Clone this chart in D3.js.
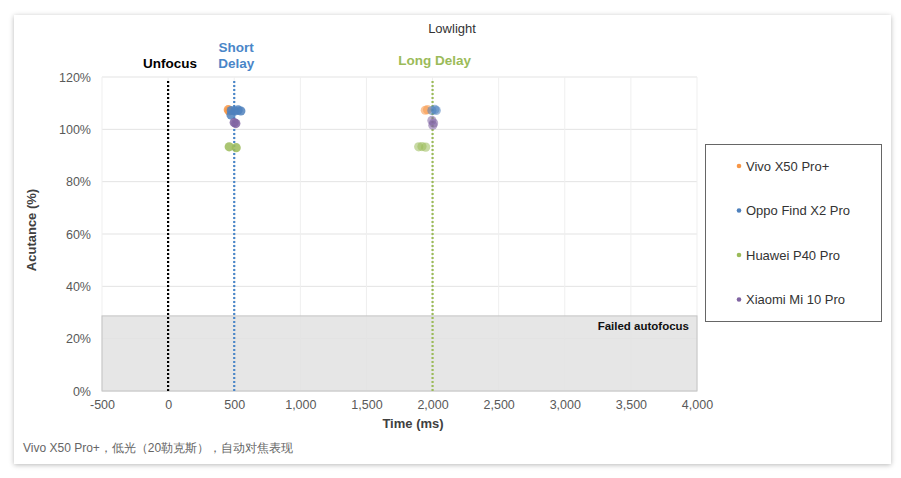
<!DOCTYPE html>
<html lang="zh">
<head>
<meta charset="UTF-8">
<title>Lowlight</title>
<script src="https://cdn.jsdelivr.net/npm/d3@7"></script>
<style>
    body { margin: 0; background: #fff; }
    #card {
        position: absolute; left: 14px; top: 15px; width: 877px; height: 449px;
        background: #fff; box-shadow: 0 1px 5px rgba(0,0,0,0.28);
    }
    svg { position: absolute; left: 0; top: 0; }
    text { font-family: "Liberation Sans", Arial, sans-serif; }
    .tick text { fill: #595959; font-size: 12.5px; }
    .tick line, .domain { display: none; }
</style>
</head>
<body>
<div id="card"></div>
<script>
// data
var phones = ["Vivo X50 Pro+", "Oppo Find X2 Pro", "Huawei P40 Pro", "Xiaomi Mi 10 Pro"];
var colors = ["#f79646", "#4f81bd", "#9bbb59", "#8064a2"];
var xTicks = [-500, 0, 500, 1000, 1500, 2000, 2500, 3000, 3500, 4000];
var yTicks = [0, 20, 40, 60, 80, 100, 120];
var markers = [
    {name: "Unfocus", t: 0, color: "#000"},
    {name: "Short Delay", t: 500, color: "#4a86c8"},
    {name: "Long Delay", t: 2000, color: "#9bbb59"}
];
var failedLimit = 28.7;  // % acutance

// shots per phone: [time ms, acutance %]
var shortDelay = [
    [[455, 107.5], [462, 107.0]],
    [[478, 107.2], [505, 107.0], [530, 107.4], [550, 107.0], [476, 105.5]],
    [[462, 93.3], [515, 93.0]],
    [[500, 102.6], [512, 102.2]]
];
var longDelay = [
    [[1945, 107.3], [1962, 107.5]],
    [[1995, 107.2], [2018, 107.6], [2028, 107.2]],
    [[1895, 93.3], [1920, 93.4], [1948, 93.2]],
    [[1995, 103.4], [2002, 101.6], [2008, 102.4]]
];

var width = 901, height = 478;
var svg = d3.select("body").append("svg")
    .attr("width", width).attr("height", height);

var x = d3.scaleLinear().domain([-500, 4000]).range([102, 697]);
var y = d3.scaleLinear().domain([0, 120]).range([391, 77]);

// grid
svg.append("g").selectAll("line").data(yTicks).enter().append("line")
    .attr("x1", x(-500)).attr("x2", x(4000))
    .attr("y1", d => y(d)).attr("y2", d => y(d))
    .attr("stroke", "#e3e3e3");
svg.append("g").selectAll("line").data(xTicks).enter().append("line")
    .attr("x1", d => x(d)).attr("x2", d => x(d))
    .attr("y1", y(0)).attr("y2", y(120))
    .attr("stroke", "#efefef");

// failed autofocus zone
svg.append("rect")
    .attr("x", x(-500)).attr("y", y(failedLimit))
    .attr("width", x(4000) - x(-500)).attr("height", y(0) - y(failedLimit))
    .attr("fill", "#e2e2e2").attr("fill-opacity", 0.85)
    .attr("stroke", "#c4c4c4");
svg.append("text")
    .attr("x", x(4000) - 8).attr("y", y(failedLimit) + 14)
    .attr("text-anchor", "end").attr("font-size", "11.5px").attr("font-weight", "bold")
    .attr("fill", "#111").text("Failed autofocus");

// axes
var fmt = d3.format(",");
svg.append("g").attr("transform", "translate(0," + (y(0) + 2) + ")")
    .call(d3.axisBottom(x).tickValues(xTicks).tickSize(0).tickPadding(7)
        .tickFormat(d => fmt(d).replace("\u2212", "-")));
svg.append("g").attr("transform", "translate(" + (x(-500) - 11) + ",0)")
    .call(d3.axisLeft(y).tickValues(yTicks).tickSize(0).tickPadding(0).tickFormat(d => d + "%"));

svg.append("text").attr("x", 413).attr("y", 428).attr("text-anchor", "middle")
    .attr("font-size", "13px").attr("font-weight", "bold").attr("fill", "#404040").text("Time (ms)");
svg.append("text").attr("transform", "translate(36,230) rotate(-90)").attr("text-anchor", "middle")
    .attr("font-size", "13px").attr("font-weight", "bold").attr("fill", "#404040").text("Acutance (%)");

// title
svg.append("text").attr("x", 452).attr("y", 33).attr("text-anchor", "middle")
    .attr("font-size", "13px").attr("fill", "#333").text("Lowlight");

// delay markers
svg.append("g").selectAll("line").data(markers).enter().append("line")
    .attr("x1", d => x(d.t)).attr("x2", d => x(d.t))
    .attr("y1", y(118.5)).attr("y2", y(0))
    .attr("stroke", d => d.color).attr("stroke-width", 2.2)
    .attr("stroke-dasharray", "2,2");
markers.forEach(function (m) {
    var words = m.name === "Short Delay" ? ["Short", "Delay"] : [m.name];
    var t = svg.append("text").attr("x", x(m.t) + 2).attr("text-anchor", "middle")
        .attr("font-size", "13.5px").attr("font-weight", "bold").attr("fill", m.color);
    words.forEach(function (w, i) {
        t.append("tspan").attr("x", x(m.t) + 2)
            .attr("y", m.t === 2000 ? 65 : 68 - (words.length - 1 - i) * 16).text(w);
    });
});

// points
phones.forEach(function (p, i) {
    svg.append("g").selectAll("circle").data(shortDelay[i]).enter().append("circle")
        .attr("cx", d => x(d[0])).attr("cy", d => y(d[1])).attr("r", 4.6)
        .attr("fill", colors[i]).attr("fill-opacity", 0.85);
    svg.append("g").selectAll("circle").data(longDelay[i]).enter().append("circle")
        .attr("cx", d => x(d[0])).attr("cy", d => y(d[1])).attr("r", 4.6)
        .attr("fill", colors[i]).attr("fill-opacity", 0.55);
});

// legend
svg.append("rect").attr("x", 705.5).attr("y", 144.5).attr("width", 176).attr("height", 177)
    .attr("fill", "#fff").attr("stroke", "#666");
var lg = svg.append("g").selectAll("g").data(phones).enter().append("g")
    .attr("transform", (d, i) => "translate(739," + (166 + i * 44.5) + ")");
lg.append("circle").attr("r", 2.3).attr("fill", (d, i) => colors[i]);
lg.append("text").attr("x", 7).attr("y", 4.5).attr("font-size", "13px").attr("fill", "#333").text(d => d);

// caption
svg.append("text").attr("x", 23).attr("y", 452)
    .attr("font-size", "12px").attr("fill", "#666")
    .attr("font-family", "'Liberation Sans', 'Noto Sans CJK SC', sans-serif")
    .text("Vivo X50 Pro+，低光（20勒克斯），自动对焦表现");
</script>
</body>
</html>
